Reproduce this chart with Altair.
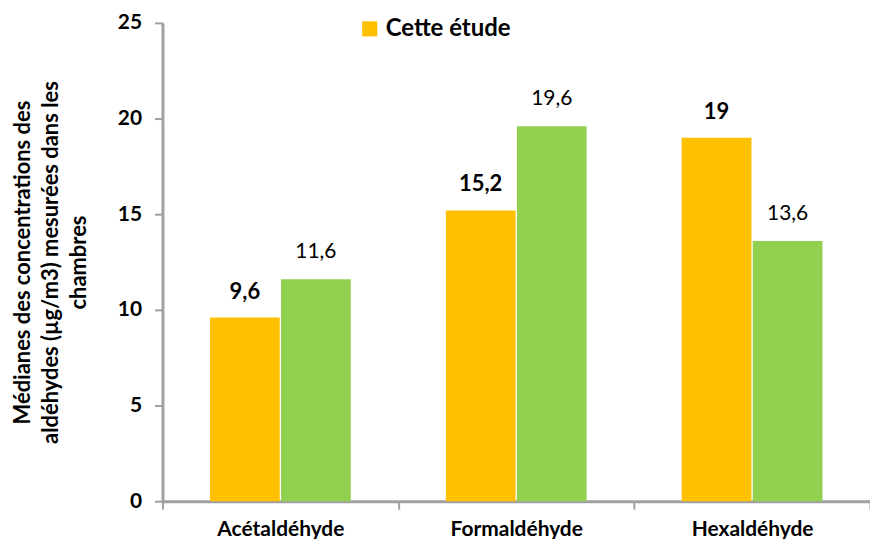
import altair as alt
import pandas as pd

categories = ["Acétaldéhyde", "Formaldéhyde", "Hexaldéhyde"]
series = ["Cette étude", "Autre étude"]
values_this = [9.6, 15.2, 19.0]
values_other = [11.6, 19.6, 13.6]
labels_this = ["9,6", "15,2", "19"]
labels_other = ["11,6", "19,6", "13,6"]
y_ticks = [0, 5, 10, 15, 20, 25]

rows = []
for c, v, l in zip(categories, values_this, labels_this):
    rows.append({"cat": c, "serie": series[0], "val": v, "lab": l})
for c, v, l in zip(categories, values_other, labels_other):
    rows.append({"cat": c, "serie": series[1], "val": v, "lab": l})
df = pd.DataFrame(rows)

FONT = "Lato"
AXC = "#a0a0a0"

x = alt.X("cat:N", sort=categories, title=None,
          scale=alt.Scale(paddingInner=0, paddingOuter=0),
          axis=alt.Axis(labelAngle=0, tickBand="extent", tickSize=8, tickColor=AXC,
                        tickWidth=2, domainColor=AXC, domainWidth=3,
                        labelFont=FONT, labelFontSize=21,
                        labelFontWeight="bold", labelColor="#000", labelPadding=9))
xo = alt.XOffset("serie:N", sort=series,
                 scale=alt.Scale(paddingInner=0, paddingOuter=0.66))
y = alt.Y("val:Q", scale=alt.Scale(domain=[0, 25]),
          title=["Médianes des concentrations des",
                 "aldéhydes (µg/m3) mesurées dans les", "chambres"],
          axis=alt.Axis(values=y_ticks, grid=False, tickSize=8, tickColor=AXC,
                        tickWidth=2, domainColor=AXC, domainWidth=3,
                        labelFont=FONT, labelFontSize=21,
                        labelFontWeight="bold", labelColor="#000", labelPadding=13,
                        titleFont=FONT, titleFontSize=22,
                        titleFontWeight="bold", titleColor="#000",
                        titleLineHeight=28, titlePadding=27))
color = alt.Color("serie:N", sort=series,
                  scale=alt.Scale(domain=series, range=["#FFC000", "#92D050"]),
                  legend=alt.Legend(values=["Cette étude"], title=None, orient="none",
                                    legendX=196, legendY=-6, symbolType="square",
                                    symbolSize=230, symbolStrokeWidth=0,
                                    labelFont=FONT, labelFontSize=24,
                                    labelFontWeight="bold", labelColor="#000"))

base = alt.Chart(df).encode(x=x, xOffset=xo, y=y)
bars = base.mark_bar(size=70).encode(color=color)
t1 = base.transform_filter(alt.datum.serie == series[0]).mark_text(
    baseline="bottom", dy=-14, font=FONT, fontSize=22, fontWeight="bold",
    color="#000").encode(text="lab:N")
t2 = base.transform_filter(alt.datum.serie == series[1]).mark_text(
    baseline="bottom", dy=-17, font=FONT, fontSize=21,
    color="#000").encode(text="lab:N")

chart = alt.layer(bars, t1, t2).properties(
    width=710, height=480,
    autosize=alt.AutoSizeParams(type="none"),
    padding={"left": 155, "top": 14, "right": 0, "bottom": 37},
).configure_view(stroke=None)

chart.save("out.html", embed_options={"renderer": "svg", "actions": False})
